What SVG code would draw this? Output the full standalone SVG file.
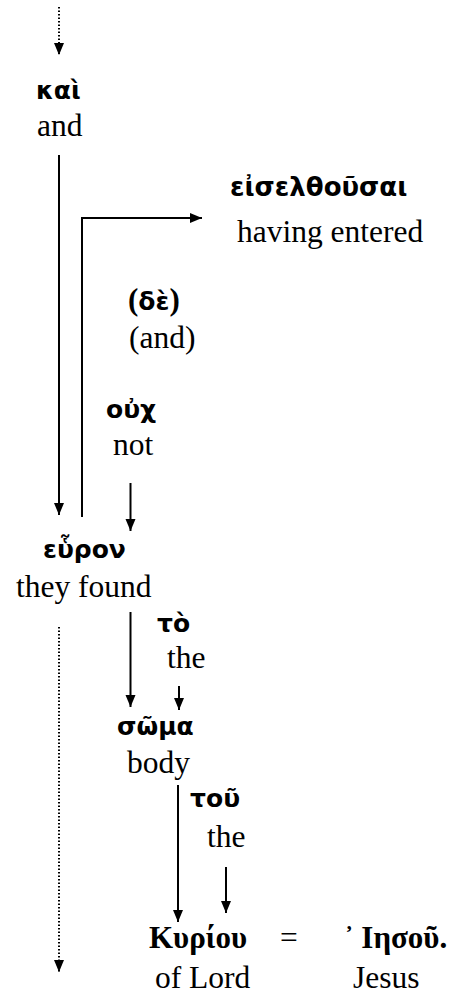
<svg xmlns="http://www.w3.org/2000/svg" width="457" height="996" viewBox="0 0 457 996">
<style>
.gk{font-family:"DejaVu Sans","Noto Sans",sans-serif;font-weight:bold;font-size:25px;fill:#000}
.gs{font-family:"Liberation Serif","DejaVu Serif",serif;font-weight:bold;font-size:31px;fill:#000}
.en{font-family:"Liberation Serif","Times New Roman",serif;font-size:31.5px;fill:#000}
.ln{stroke:#000;stroke-width:2;fill:none}
.dt{stroke:#000;stroke-width:2;fill:none;stroke-dasharray:1.5 2}
</style>
<defs>
<marker id="ah" markerUnits="userSpaceOnUse" markerWidth="12" markerHeight="12" viewBox="0 0 12 12" refX="12" refY="6" orient="auto">
<path d="M0,1 L12,6 L0,11 Z" fill="#000"/>
</marker>
</defs>
<g id="connectors">
<path class="dt" d="M59,7 V55" marker-end="url(#ah)"/>
<path class="ln" d="M59,155 V515" marker-end="url(#ah)"/>
<path class="ln" d="M82,517 V218 H202" marker-end="url(#ah)"/>
<path class="ln" d="M130.5,483 V531" marker-end="url(#ah)"/>
<path class="ln" d="M130.5,612 V707" marker-end="url(#ah)"/>
<path class="ln" d="M179,686 V710" marker-end="url(#ah)"/>
<path class="dt" d="M59,627 V972" marker-end="url(#ah)"/>
<path class="ln" d="M178,785 V922" marker-end="url(#ah)"/>
<path class="ln" d="M226,867 V913" marker-end="url(#ah)"/>
</g>
<g id="kai"><text class="gk" x="36" y="99">καὶ</text><text class="en" x="37" y="136">and</text></g>
<g id="eiselthousai"><text class="gk" x="230" y="196" style="font-size:26px">εἰσελθοῦσαι</text><text class="en" x="237" y="242">having entered</text></g>
<g id="de"><text class="gk" x="128" y="310"><tspan class="gs">(</tspan>δὲ<tspan class="gs">)</tspan></text><text class="en" x="129" y="348">(and)</text></g>
<g id="ouch"><text class="gk" x="106" y="418">οὐχ</text><text class="en" x="113" y="455">not</text></g>
<g id="heuron"><text class="gk" x="43" y="558">εὗρον</text><text class="en" x="16" y="597">they found</text></g>
<g id="to"><text class="gk" x="157" y="632">τὸ</text><text class="en" x="167" y="668">the</text></g>
<g id="soma"><text class="gk" x="117" y="735">σῶμα</text><text class="en" x="127" y="773">body</text></g>
<g id="tou"><text class="gk" x="190" y="807">τοῦ</text><text class="en" x="207" y="847">the</text></g>
<g id="kyriou"><text class="gs" x="149" y="948">Κυρίου</text><text class="en" x="155" y="988">of Lord</text></g>
<g id="equals"><text class="en" x="280" y="948">=</text></g>
<g id="iesou"><text class="gs" x="344" y="948">᾿<tspan dx="7">Ιησοῦ.</tspan></text><text class="en" x="353" y="988">Jesus</text></g>
</svg>
